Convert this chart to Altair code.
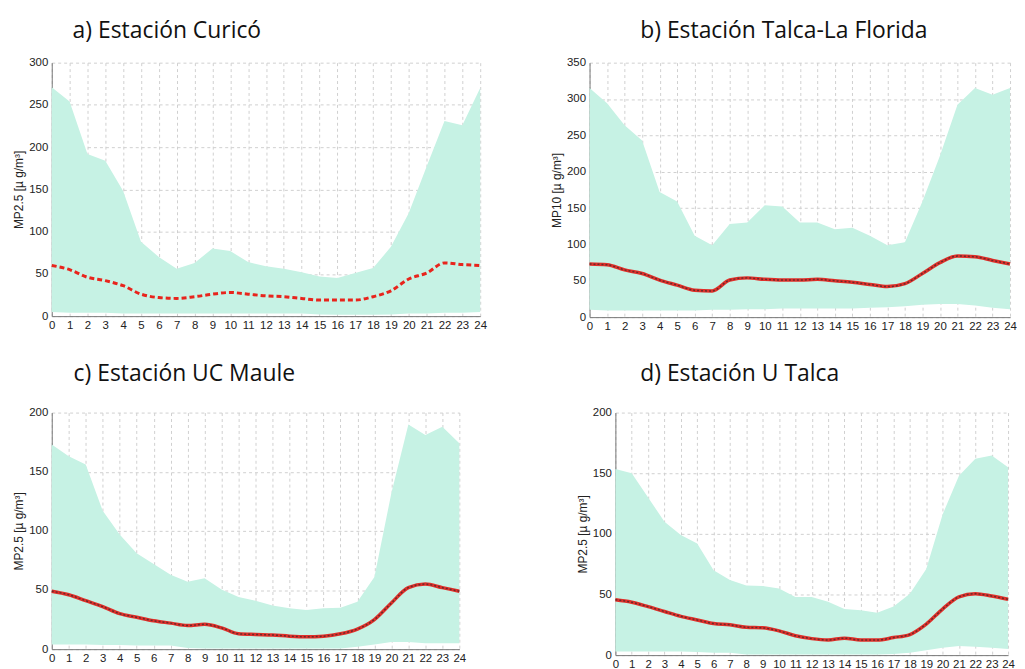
import altair as alt
import pandas as pd

hours = list(range(25))

# a) Curicó  MP2.5
a_upper = [271, 254, 192, 184, 148, 88, 70, 56, 63, 80, 77, 64, 59, 56, 52, 47, 45, 51, 57, 82, 122, 177, 231, 226, 270]
a_lower = [5, 4, 4, 4, 3, 3, 3, 3, 3, 3, 3, 3, 3, 3, 3, 2, 1.5, 1.5, 1.5, 2, 3, 3, 4, 4, 5]
a_mean = [60, 55, 46, 42, 36, 26, 22, 21, 23, 26, 28, 26, 24, 23, 21, 19, 19, 19, 23, 30, 44, 51, 63, 61, 60]

# b) Talca-La Florida  MP10
b_upper = [315, 294, 264, 243, 172, 159, 112, 99, 128, 130, 154, 152, 130, 130, 121, 123, 112, 99, 103, 159, 222, 292, 315, 306, 315]
b_lower = [10, 9, 9, 9, 9, 9, 9, 10, 10, 11, 11, 12, 12, 12, 12, 12, 13, 13.5, 15, 17, 18, 18, 16, 13, 11]
b_mean = [73, 72, 65, 60, 51, 44, 37, 36, 51, 54, 52, 51, 51, 52, 50, 48, 45, 42, 46, 60, 75, 84, 83, 78, 73]

# c) UC Maule  MP2.5
c_upper = [173, 163, 156, 117, 97, 81, 72, 63, 57, 60, 50.5, 44, 41, 37, 34.5, 33, 34.5, 35, 40, 61, 132, 190, 181, 188, 174]
c_lower = [4, 4, 4, 3.5, 3.5, 3, 3, 3, 1, 0.5, 0.5, 0.5, 0.5, 0.5, 0.5, 0.5, 0.5, 0.5, 2, 4, 6, 6, 5, 5, 5]
c_mean = [49, 46, 41, 36, 30, 27, 24, 22, 20, 21, 18, 13, 12.4, 12, 11, 10.5, 11, 13, 17, 25, 39, 52, 55, 52, 49]

# d) U Talca  MP2.5
d_upper = [153.5, 150, 130, 110, 99, 92, 70, 62, 57.5, 57, 55, 48, 48, 44, 38, 37, 35, 40, 50.6, 71, 116, 148, 162, 164.6, 155]
d_lower = [3, 3, 3, 3, 3, 2.5, 2, 2, 0.5, 0.5, 0.5, 0.5, 0.5, 0.5, 0.5, 0.5, 0.5, 1, 2, 4, 6, 7.5, 7, 6, 5]
d_mean = [45.6, 43.6, 40, 36, 32, 29, 26, 25, 23, 22.5, 20, 16, 13.6, 12.5, 14, 12.5, 12.5, 14.5, 17, 25.6, 38, 48, 50.6, 48.7, 46]

titles = ["a) Estación Curicó", "b) Estación Talca-La Florida", "c) Estación UC Maule", "d) Estación U Talca"]
ylabels = ["MP2.5 [µ g/m³]", "MP10 [µ g/m³]", "MP2.5 [µ g/m³]", "MP2.5 [µ g/m³]"]
ymax = [300, 350, 200, 200]

AREA = "#c6f2e4"
RED = "#e8241c"


def panel(upper, lower, mean, title, ylabel, ymx, w, h, title_offset, title_dx, dots):
    df = pd.DataFrame({"hour": hours, "upper": upper, "lower": lower, "mean": mean})
    common = dict(gridDash=[3, 3], gridColor="#d0d0d0", domainColor="#777", ticks=False,
                  labelFontSize=11.5, labelColor="#222", labelOverlap=False)
    xaxis = alt.Axis(values=hours, title=None, labelFlush=False, labelPadding=3, **common)
    yaxis = alt.Axis(values=list(range(0, ymx + 1, 50)), title=ylabel, titleFontSize=12,
                     titleFontWeight="normal", titleColor="#222", titlePadding=3,
                     labelPadding=4, **common)
    xs = alt.Scale(domain=[0, 24], nice=False)
    ys = alt.Scale(domain=[0, ymx], nice=False)
    x = alt.X("hour:Q", scale=xs, axis=xaxis)
    area = alt.Chart(df).mark_area(color=AREA, opacity=1).encode(
        x=x, y=alt.Y("upper:Q", scale=ys, axis=yaxis), y2="lower:Q")
    ym = alt.Y("mean:Q", scale=ys, axis=yaxis)
    if dots:
        l1 = alt.Chart(df).mark_line(color="#e0302a", strokeWidth=3.5, interpolate="monotone").encode(
            x=x, y=ym)
        l2 = alt.Chart(df).mark_line(color="#6b2a2a", strokeWidth=1.5, strokeDash=[2, 2],
                                     interpolate="monotone").encode(x=x, y=ym)
        layers = [area, l1, l2]
    else:
        l1 = alt.Chart(df).mark_line(color=RED, strokeWidth=3, strokeDash=[5, 3],
                                     interpolate="monotone").encode(x=x, y=ym)
        layers = [area, l1]
    return alt.layer(*layers).properties(
        width=w, height=h,
        title=alt.TitleParams(title, anchor="start", frame="group", fontSize=23, font="Open Sans",
                              fontWeight="normal", color="#111", offset=title_offset, dx=title_dx),
    )


pa = panel(a_upper, a_lower, a_mean, titles[0], ylabels[0], ymax[0], 431, 255, 13.5, 21, False)
pb = panel(b_upper, b_lower, b_mean, titles[1], ylabels[1], ymax[1], 423, 256, 13.5, 51, True)
pc = panel(c_upper, c_lower, c_mean, titles[2], ylabels[2], ymax[2], 410, 238, 20.5, 22, True)
pd_ = panel(d_upper, d_lower, d_mean, titles[3], ylabels[3], ymax[3], 395, 244, 20.5, 25, True)

row1 = alt.hconcat(pa, pb, spacing=63)
row2 = alt.hconcat(pc, pd_, spacing=110)

chart = alt.vconcat(row1, row2, spacing=31).properties(
    padding={"left": 4, "top": 10, "right": 0, "bottom": 0}
).configure_view(stroke=None).configure_axis(
    labelFont="Liberation Sans", titleFont="Liberation Sans", labelOverlap=False
)

chart.save("out.html", embed_options={"renderer": "svg", "actions": False})
